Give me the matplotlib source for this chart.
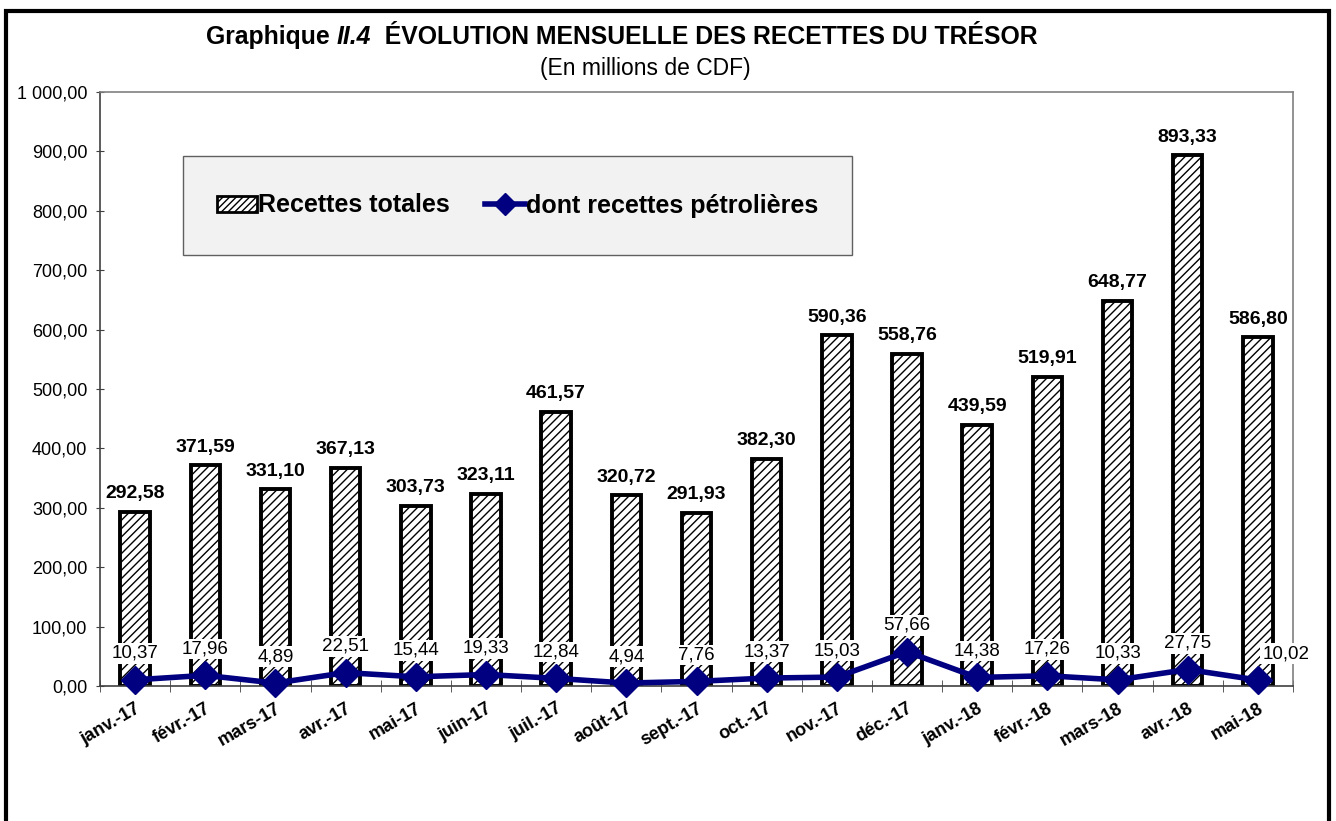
import matplotlib
matplotlib.use("Agg")
import matplotlib.pyplot as plt
from matplotlib.patches import Rectangle, Patch
from matplotlib.lines import Line2D
from matplotlib.ticker import FixedLocator, FuncFormatter
from matplotlib.offsetbox import TextArea, HPacker, AnnotationBbox
import numpy as np

months = ["janv.-17", "févr.-17", "mars-17", "avr.-17", "mai-17", "juin-17", "juil.-17",
          "août-17", "sept.-17", "oct.-17", "nov.-17", "déc.-17", "janv.-18", "févr.-18",
          "mars-18", "avr.-18", "mai-18"]
recettes_totales = [292.58, 371.59, 331.10, 367.13, 303.73, 323.11, 461.57, 320.72, 291.93,
                    382.30, 590.36, 558.76, 439.59, 519.91, 648.77, 893.33, 586.80]
recettes_petrolieres = [10.37, 17.96, 4.89, 22.51, 15.44, 19.33, 12.84, 4.94, 7.76, 13.37,
                        15.03, 57.66, 14.38, 17.26, 10.33, 27.75, 10.02]
y_ticks = [0, 100, 200, 300, 400, 500, 600, 700, 800, 900, 1000]

plt.rcParams['font.family'] = ['Liberation Sans', 'DejaVu Sans']
plt.rcParams['hatch.linewidth'] = 1.0
plt.rcParams['hatch.color'] = 'black'


def fr(v):
    s = f"{v:,.2f}"
    return s.replace(",", " ").replace(".", ",")


fig = plt.figure(figsize=(13.36, 8.21), dpi=100)
W, H = 1336, 821
ax = fig.add_axes([100 / W, 1 - 686 / H, (1293 - 100) / W, (686 - 92) / H])

x = np.arange(len(months))
ax.bar(x, recettes_totales, width=0.42, color='white', edgecolor='black',
       linewidth=2.8, hatch='////', zorder=2)
ax.plot(x, recettes_petrolieres, color='#000080', linewidth=4, marker='D',
        markersize=14, markerfacecolor='#000080', markeredgecolor='#000080', zorder=4,
        clip_on=False)

for i, v in enumerate(recettes_totales):
    ax.annotate(fr(v), (x[i], v), xytext=(0, 7), textcoords='offset points',
                ha='center', va='bottom', fontsize=14, fontweight='bold', zorder=5)

for i, v in enumerate(recettes_petrolieres):
    dx = 20 if i == len(months) - 1 else 0
    ax.annotate(fr(v), (x[i], v), xytext=(dx, 19), textcoords='offset points',
                ha='center', va='center', fontsize=13.5, zorder=5,
                bbox=dict(boxstyle='square,pad=0.1', facecolor='white', edgecolor='none'))

ax.set_xlim(-0.5, len(months) - 0.5)
ax.set_ylim(0, 1000)
ax.yaxis.set_major_locator(FixedLocator(y_ticks))
ax.yaxis.set_major_formatter(FuncFormatter(lambda v, p: fr(v)))
ax.tick_params(axis='y', labelsize=13, length=6, direction='inout', color='#404040', pad=6)

ax.set_xticks(x)
ax.set_xticklabels(months, rotation=30, ha='right', rotation_mode='anchor',
                   fontsize=13, fontweight='bold')
ax.tick_params(axis='x', which='major', length=0, pad=10)
ax.set_xticks(np.arange(-0.5, len(months) + 0.5, 1), minor=True)
ax.tick_params(axis='x', which='minor', length=8, direction='inout', color='#404040')

for s in ['top', 'right']:
    ax.spines[s].set_color('#808080')
    ax.spines[s].set_linewidth(1.2)
ax.spines['left'].set_color('#404040')
ax.spines['bottom'].set_color('#404040')
ax.spines['left'].set_linewidth(1.2)
ax.spines['bottom'].set_linewidth(1.2)

# Legend box
lx0, ly0, lx1, ly1 = 183, 156, 852, 255
box = Rectangle((lx0 / W, 1 - ly1 / H), (lx1 - lx0) / W, (ly1 - ly0) / H,
                transform=fig.transFigure, facecolor='#f2f2f2', edgecolor='#606060',
                linewidth=1.0, zorder=6)
fig.add_artist(box)
handles = [Patch(facecolor='white', edgecolor='black', hatch='/////', linewidth=2),
           Line2D([0], [0], color='#000080', linewidth=4, marker='D', markersize=11)]
leg = fig.legend(handles, ["Recettes totales", "dont recettes pétrolières"],
                 loc='center', bbox_to_anchor=((lx0 + lx1) / 2 / W, 1 - (ly0 + ly1) / 2 / H),
                 ncol=2, frameon=False, prop={'size': 18, 'weight': 'bold'},
                 handlelength=1.6, handleheight=0.6, handletextpad=0.05, columnspacing=1.4)
leg.set_zorder(7)

# Title (mixed bold / bold italic)
tparts = [TextArea("Graphique ", textprops=dict(fontsize=17.8, fontweight='bold')),
          TextArea("II.4", textprops=dict(fontsize=17.8, fontweight='bold', fontstyle='italic')),
          TextArea("  ÉVOLUTION MENSUELLE DES RECETTES DU TRÉSOR",
                   textprops=dict(fontsize=17.8, fontweight='bold'))]
pack = HPacker(children=tparts, align='baseline', pad=0, sep=0)
ab = AnnotationBbox(pack, (622 / W, 1 - 37 / H), xycoords='figure fraction',
                    frameon=False, box_alignment=(0.5, 0.5))
fig.add_artist(ab)
fig.text(645 / W, 1 - 68 / H, "(En millions de CDF)", ha='center', va='center', fontsize=16.5)

# Outer border
border = Rectangle((6 / W, -0.05), (1329 - 6) / W, 1.05 - 11 / H, transform=fig.transFigure,
                   facecolor='none', edgecolor='black', linewidth=3.0, clip_on=False)
fig.add_artist(border)

fig.savefig("out.png", dpi=100)
